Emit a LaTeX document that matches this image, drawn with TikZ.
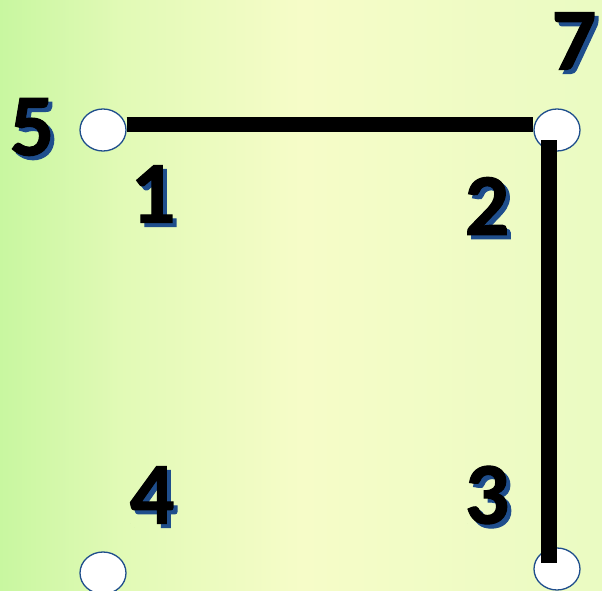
\documentclass[tikz,border=0pt]{standalone}
\usepackage{fontspec}
\setmainfont{Carlito}
\newfontfamily\numfont{Carlito Bold}[FakeBold=1.2]
\usepackage{tikz}
\usetikzlibrary{shapes.geometric}
\definecolor{leftgreen}{RGB}{200,247,160}
\definecolor{midyellow}{RGB}{246,252,200}
\definecolor{rightyellow}{RGB}{234,251,194}
\definecolor{shadowblue}{RGB}{31,78,140}
\pgfdeclarehorizontalshading{bgshade}{100bp}{color(0bp)=(leftgreen); color(25bp)=(leftgreen); color(35bp)=(leftgreen!45!midyellow); color(50bp)=(midyellow); color(75bp)=(rightyellow); color(100bp)=(rightyellow)}
\newcommand{\numlbl}[1]{\rlap{\kern4pt\raisebox{-4pt}{\textcolor{shadowblue}{#1}}}#1}

\begin{document}
\begin{tikzpicture}[x=1pt,y=-1pt]
			\tikzstyle{o}=[ellipse,draw=shadowblue,line width=1.3pt,fill=white,minimum width=46pt,minimum height=42pt,inner sep=0pt]
			\tikzstyle{num}=[inner sep=0pt,font=\fontsize{88}{88}\numfont]
			\tikzstyle{bar}=[line width=15.5pt,line cap=butt]
				\useasboundingbox (0,0) rectangle (602,591);
				\shade [shading=bgshade] (0,0) rectangle (602,591);
				% corner points
				\node [o] (p1) at (103,130) {};
				\node [o] (p2) at (557,130) {};
				\node [o] (p3) at (557,569) {};
				\node [o] (p4) at (103,573) {};
				% path
				\draw [bar] ([yshift=5.5pt]p1.east) -- ([yshift=5.5pt]p2.west);
				\draw [bar] ([xshift=-8pt,yshift=-10pt]p2.center) -- ([xshift=-8pt,yshift=6pt]p3.center);
				% labels
				\node [num] (n5) at (32,129) {\numlbl{5}};
				\node [num] (n7) at (574,43) {\numlbl{7}};
				\node [num] (n1) at (153,196) {\numlbl{1}};
				\node [num] (n2) at (487,208) {\numlbl{2}};
				\node [num] (n3) at (487,497) {\numlbl{3}};
				\node [num] (n4) at (152,497) {\numlbl{4}};
	\end{tikzpicture}
\end{document}
